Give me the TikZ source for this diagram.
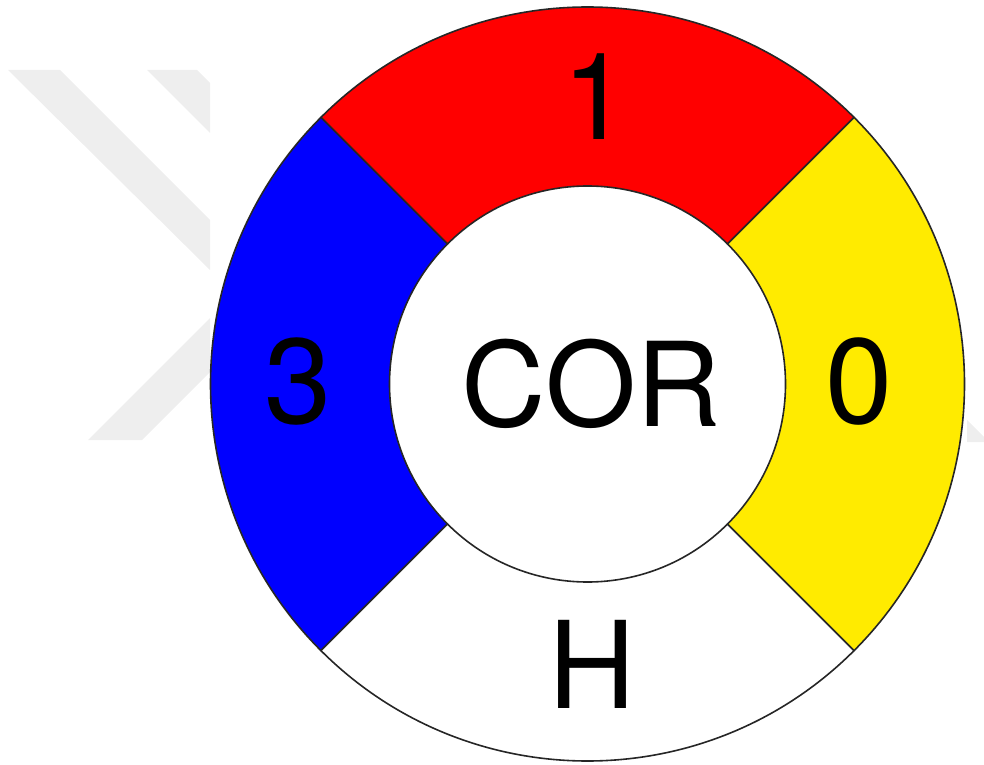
\documentclass[tikz,border=0pt]{standalone}
\usepackage{fontspec}
\setmainfont{TeX Gyre Heros}
\definecolor{segyellow}{RGB}{255,235,0}
\definecolor{wm}{RGB}{238,238,238}
\tikzset{
  seg/.style={draw=black!85, line width=1.6pt, line join=round},
  lbl/.style={anchor=base, inner sep=0pt, font=\fontsize{121}{121}\selectfont},
}
\begin{document}
\begin{tikzpicture}[x=1pt,y=1pt]
\useasboundingbox (0,0) rectangle (984,764);
% faint watermark
\fill[wm] (8,694) -- (60,694) -- (210,544) -- (210,494) -- cycle;
\fill[wm] (147,694) -- (197,694) -- (210,681) -- (210,631) -- cycle;
\fill[wm] (88,324) -- (142,324) -- (210,392) -- (210,446) -- cycle;
\fill[wm] (967,344) -- (984,327) -- (984,322) -- (967,322) -- cycle;
\begin{scope}[shift={(587.5,380)}]
\def\Ro{377}\def\Ri{198}
\filldraw[seg, fill=red] (45:\Ri) -- (45:\Ro) arc[start angle=45,end angle=135,radius=\Ro] -- (135:\Ri) arc[start angle=135,end angle=45,radius=\Ri] -- cycle;
\filldraw[seg, fill=blue] (135:\Ri) -- (135:\Ro) arc[start angle=135,end angle=225,radius=\Ro] -- (225:\Ri) arc[start angle=225,end angle=135,radius=\Ri] -- cycle;
\filldraw[seg, fill=white] (225:\Ri) -- (225:\Ro) arc[start angle=225,end angle=315,radius=\Ro] -- (315:\Ri) arc[start angle=315,end angle=225,radius=\Ri] -- cycle;
\filldraw[seg, fill=segyellow] (315:\Ri) -- (315:\Ro) arc[start angle=315,end angle=405,radius=\Ro] -- (45:\Ri) arc[start angle=45,end angle=-45,radius=\Ri] -- cycle;
\end{scope}
\node[lbl] (one) at (596,624) {1};
\node[lbl] (three) at (298,341) {3};
\node[lbl] (zero) at (859,341) {0};
\node[lbl, font=\fontsize{117}{117}\selectfont] (cor) at (591,338) {COR};
\node[lbl] (h) at (592,56) {H};
\end{tikzpicture}
\end{document}
